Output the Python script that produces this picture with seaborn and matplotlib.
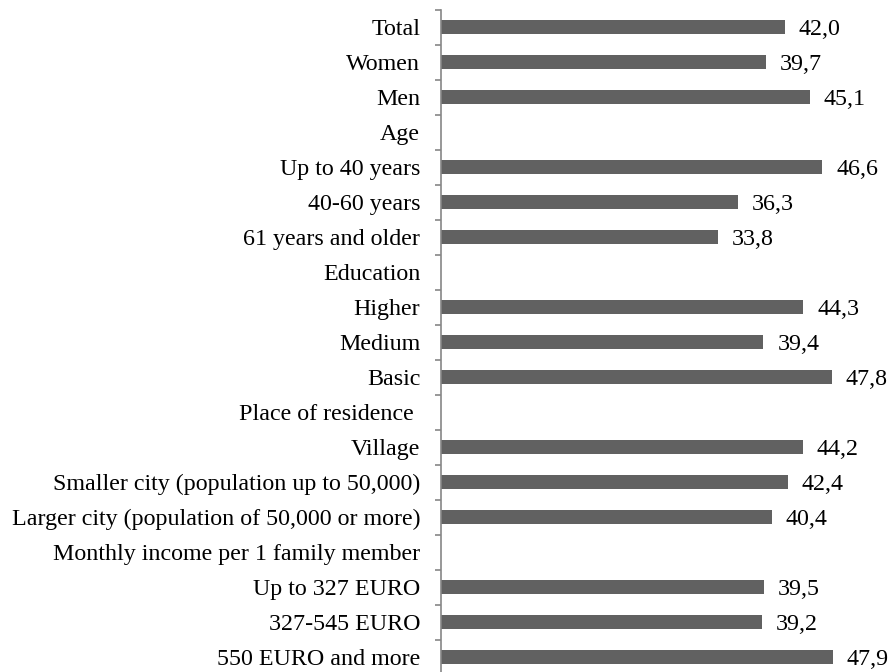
import numpy as np
import pandas as pd
import matplotlib
matplotlib.use("Agg")
import matplotlib.pyplot as plt
import seaborn as sns
from matplotlib.ticker import FixedLocator

categories = [
    "Total", "Women", "Men", "Age", "Up to 40 years", "40-60 years",
    "61 years and older", "Education", "Higher", "Medium", "Basic",
    "Place of residence ", "Village", "Smaller city (population up to 50,000)",
    "Larger city (population of 50,000 or more)",
    "Monthly income per 1 family member", "Up to 327 EURO", "327-545 EURO",
    "550 EURO and more",
]
values = [42.0, 39.7, 45.1, np.nan, 46.6, 36.3, 33.8, np.nan, 44.3, 39.4, 47.8,
          np.nan, 44.2, 42.4, 40.4, np.nan, 39.5, 39.2, 47.9]

df = pd.DataFrame({"category": categories, "value": values})

sns.set_style("white")
plt.rcParams["font.family"] = ["Liberation Serif", "DejaVu Serif"]

W, H = 891, 672
fig = plt.figure(figsize=(W / 100, H / 100), dpi=100)
ax_left = 441 / W
ax_top = 1 - 9.5 / H
ax = fig.add_axes([ax_left, 0.0, 1 - ax_left, ax_top])

sns.barplot(data=df, y="category", x="value", orient="h", color="#616161",
            width=0.4, saturation=1, ax=ax, order=categories, linewidth=0)

for i, v in enumerate(values):
    if np.isnan(v):
        continue
    ax.annotate(f"{v:.1f}".replace(".", ","), xy=(v, i), xytext=(10, -1.5),
                textcoords="offset points", ha="left", va="center",
                fontsize=17.3, color="#000000")

n = len(categories)
ax.set_xlim(0, 55)
ax.set_ylim((672 - 27) / 35.0, -0.5)
ax.set_xlabel("")
ax.set_ylabel("")
ax.set_xticks([])
for s in ["top", "right", "bottom"]:
    ax.spines[s].set_visible(False)
ax.spines["left"].set_color("#868686")
ax.spines["left"].set_linewidth(1.2)
ax.yaxis.set_minor_locator(FixedLocator(np.arange(-0.5, n, 1.0)))
ax.tick_params(axis="y", which="major", length=0, pad=15, labelsize=17.3,
               labelcolor="#000000")
ax.tick_params(axis="y", which="minor", left=True, length=4.5, width=1.2,
               color="#868686")

fig.savefig("out.png", dpi=100)
